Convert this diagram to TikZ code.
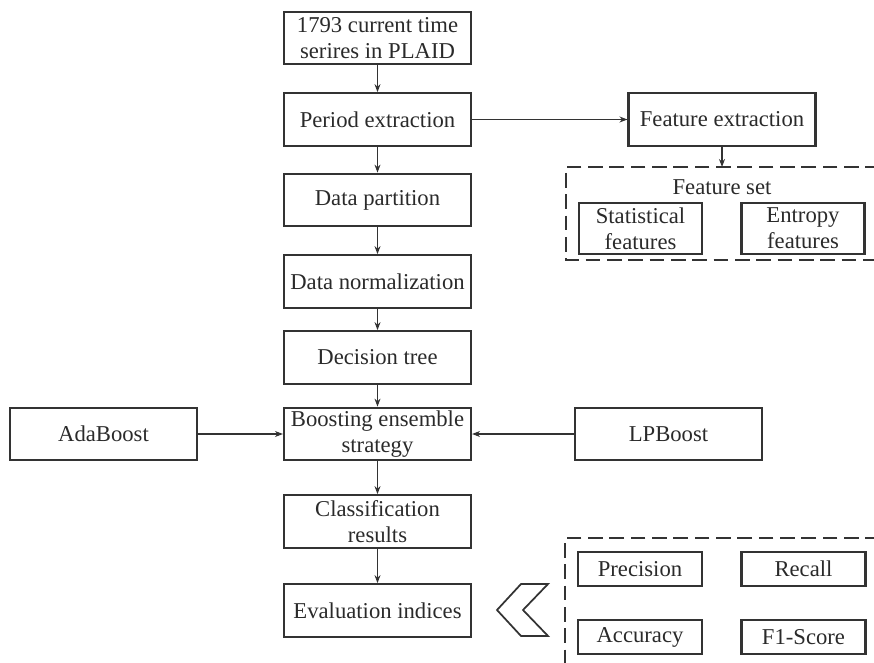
\documentclass[tikz,border=0pt]{standalone}
\usepackage{fontspec}
\setmainfont{Liberation Serif}
\usetikzlibrary{arrows.meta}
\definecolor{ink}{HTML}{333333}
\definecolor{txt}{HTML}{2A2A2A}
\begin{document}
\begin{tikzpicture}[x=0.75pt,y=-0.75pt,
  box/.style={draw=ink, line width=1.6pt, inner sep=0pt, align=center,
    minimum width=140.25pt, minimum height=39.5pt, text=txt,
    font=\fontsize{17}{19.5}\selectfont},
  subbox/.style={box, minimum width=92.25pt, minimum height=38.25pt},
  metric/.style={box, minimum width=93pt, minimum height=25.5pt},
  arr/.style={draw=ink, line width=0.8pt, -{Stealth[length=6pt,width=4.5pt]}},
  dbox/.style={draw=ink, line width=1.5pt, dash pattern=on 11pt off 5pt},
  label/.style={text=txt, font=\fontsize{17}{19.5}\selectfont}]
  \useasboundingbox (0,0) rectangle (874,663);
  \clip (0,0) rectangle (874,663);

  % main pipeline
  \node[box] (src)   at (377.5,38)    {1793 current time\\serires in PLAID};
  \node[box] (per)   at (377.5,119.5) {Period extraction};
  \node[box] (part)  at (377.5,200)   {Data partition};
  \node[box] (norm)  at (377.5,281.5) {Data normalization};
  \node[box] (tree)  at (377.5,357.5) {Decision tree};
  \node[box] (boost) at (377.5,434)   {Boosting ensemble\\strategy};
  \node[box] (cls)   at (377.5,521.5) {Classification\\results};
  \node[box] (eval)  at (377.5,610.5) {Evaluation indices};

  % ensemble methods
  \node[box] (ada) at (103.5,434) {AdaBoost};
  \node[box] (lp)  at (668.5,434) {LPBoost};

  % feature branch
  \node[box] (fext) at (722,119.5) {Feature extraction};
  \draw[dbox] (880,167) -- (566,167) -- (566,260) -- (880,260);
  \coordinate (fset) at (722,167);
  \node[label] (fsl) at (722,187) {Feature set};
  \node[subbox] (stat) at (640.5,228.5) {Statistical\\features};
  \node[subbox] (ent)  at (803,228.5)   {Entropy\\features};

  % evaluation metrics
  \draw[dbox] (880,538) -- (565,538) -- (565,670);
  \node[metric] (prec) at (640,569)   {Precision};
  \node[metric] (rec)  at (803.5,569) {Recall};
  \node[metric] (acc)  at (640,637)   {Accuracy};
  \node[metric] (f1)   at (803.5,637) {F1-Score};

  % chevron pointing to the evaluation box
  \draw[draw=ink, line width=1.3pt, line join=miter]
    (521,584) -- (548,584) -- (523,610) -- (548,636) -- (521,636) -- (497,610) -- cycle;

  % connectors
  \draw[arr] (src) -- (per);
  \draw[arr] (per) -- (part);
  \draw[arr] (part) -- (norm);
  \draw[arr] (norm) -- (tree);
  \draw[arr] (tree) -- (boost);
  \draw[arr] (boost) -- (cls);
  \draw[arr] (cls) -- (eval);
  \draw[arr] (ada) -- (boost);
  \draw[arr] (lp) -- (boost);
  \draw[arr] (per) -- (fext);
  \draw[arr] (fext) -- (fset);
\end{tikzpicture}
\end{document}
